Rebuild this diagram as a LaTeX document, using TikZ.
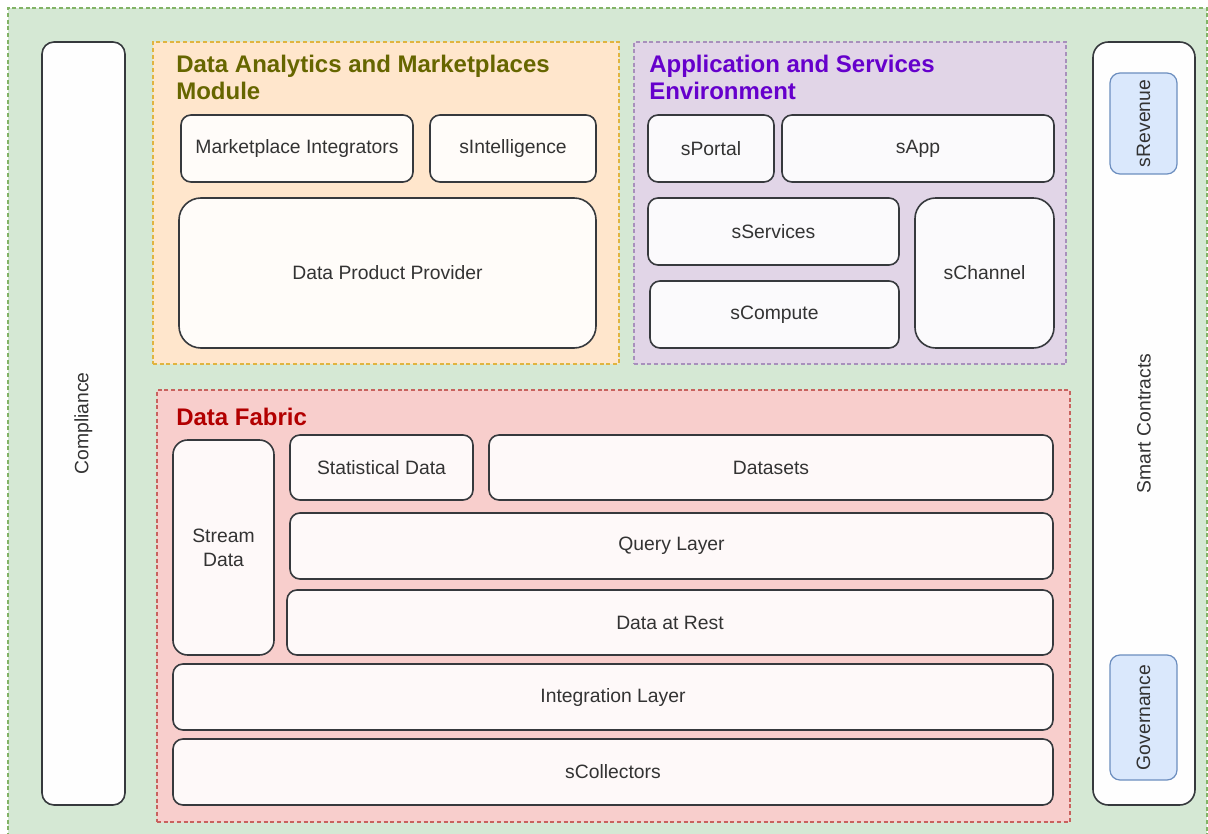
\documentclass[tikz,border=0pt]{standalone}
\usepackage{fontspec}
\setmainfont{Liberation Sans}
\usetikzlibrary{fit}

\definecolor{greenbg}{HTML}{D5E8D4}
\definecolor{greenln}{HTML}{82B366}
\definecolor{orangebg}{HTML}{FFE6CC}
\definecolor{orangeln}{HTML}{E0B440}
\definecolor{olivetxt}{HTML}{666600}
\definecolor{purplebg}{HTML}{E1D5E7}
\definecolor{purpleln}{HTML}{A890BC}
\definecolor{purpletxt}{HTML}{6600CC}
\definecolor{redbg}{HTML}{F8CECC}
\definecolor{redln}{HTML}{C8625E}
\definecolor{redtxt}{HTML}{B20000}
\definecolor{bluebg}{HTML}{DAE8FC}
\definecolor{blueln}{HTML}{6C8EBF}
\definecolor{boxln}{HTML}{36393D}
\definecolor{txtgray}{HTML}{333333}

\tikzset{
  area/.style={draw=#1, dash pattern=on 3pt off 2pt, line width=1.1pt, inner sep=0pt},
  blk/.style={draw=boxln, line width=1.2pt, rounded corners=#1, inner sep=0pt},
  blk/.default=7.5pt,
  tag/.style={draw=blueln, fill=bluebg, line width=0.9pt, rounded corners=7.5pt, inner sep=0pt},
  every label/.style={text=txtgray, align=center, inner sep=0pt,
    font=\fontsize{14.5}{18}\selectfont},
  ttl/.style={anchor=north west, align=left, inner sep=0pt,
    font=\bfseries\fontsize{18}{20.25}\selectfont},
}

\begin{document}
\begin{tikzpicture}[x=0.75pt,y=-0.75pt]
\useasboundingbox (0,0) rectangle (1208,834);
\fill[white] (0,0) rectangle (1208,834);
% background
\node[area=greenln, line width=0.8pt, fill=greenbg, fit={(8,8) (1207,845)}] (bg) {};

% side columns
\node[blk=9pt, fill=white!97!greenbg, fit={(42,42) (125,805)},
  label={[rotate=90]center:Compliance}] (compliance) {};
\node[blk=11.5pt, fill=white!97!greenbg, fit={(1093,42) (1195,805)},
  label={[rotate=90]center:Smart Contracts}] (contracts) {};
\node[tag, fit={(1110,73) (1177,174)}, label={[rotate=90]center:sRevenue}] (revenue) {};
\node[tag, fit={(1110,655) (1177,780)}, label={[rotate=90]center:Governance}] (governance) {};

% data analytics and marketplaces module
\node[area=orangeln, fill=orangebg, fit={(153,42) (619,364)}] (analytics) {};
\node[ttl, text=olivetxt] (analyticstitle) at (176,55) {Data Analytics and Marketplaces\\Module};
\node[blk, fill=white!88!orangebg, fit={(181,115) (413,182)}, label=center:Marketplace Integrators] (integrators) {};
\node[blk, fill=white!88!orangebg, fit={(430,115) (596,182)}, label=center:sIntelligence] (intelligence) {};
\node[blk=16.5pt, fill=white!88!orangebg, fit={(179,198) (596,348)}, label=center:Data Product Provider] (provider) {};

% application and services environment
\node[area=purpleln, fill=purplebg, fit={(634,42) (1066,364)}] (appenv) {};
\node[ttl, text=purpletxt] (appenvtitle) at (649,55) {Application and Services\\Environment};
\node[blk, fill=white!88!purplebg, fit={(648,115) (774,182)}, label=center:sPortal] (portal) {};
\node[blk, fill=white!88!purplebg, fit={(782,115) (1054,182)}, label=center:sApp] (app) {};
\node[blk, fill=white!88!purplebg, fit={(648,198) (899,265)}, label=center:sServices] (services) {};
\node[blk, fill=white!88!purplebg, fit={(650,281) (899,348)}, label=center:sCompute] (compute) {};
\node[blk=15.5pt, fill=white!88!purplebg, fit={(915,198) (1054,348)}, label=center:sChannel] (channel) {};

% data fabric
\node[area=redln, line width=0.8pt, fill=redbg, fit={(157,390) (1070,822)}] (fabric) {};
\node[ttl, text=redtxt] (fabrictitle) at (176,408) {Data Fabric};
\node[blk=11pt, fill=white!88!redbg, fit={(173,440) (274,655)}, label={center:Stream\\Data}] (stream) {};
\node[blk, fill=white!88!redbg, fit={(290,435) (473,500)}, label=center:Statistical Data] (statistical) {};
\node[blk, fill=white!88!redbg, fit={(489,435) (1053,500)}, label=center:Datasets] (datasets) {};
\node[blk, fill=white!88!redbg, fit={(290,513) (1053,579)}, label=center:Query Layer] (query) {};
\node[blk, fill=white!88!redbg, fit={(287,590) (1053,655)}, label=center:Data at Rest] (rest) {};
\node[blk, fill=white!88!redbg, fit={(173,664) (1053,730)}, label=center:Integration Layer] (integration) {};
\node[blk, fill=white!88!redbg, fit={(173,739) (1053,805)}, label=center:sCollectors] (collectors) {};
\end{tikzpicture}
\end{document}
